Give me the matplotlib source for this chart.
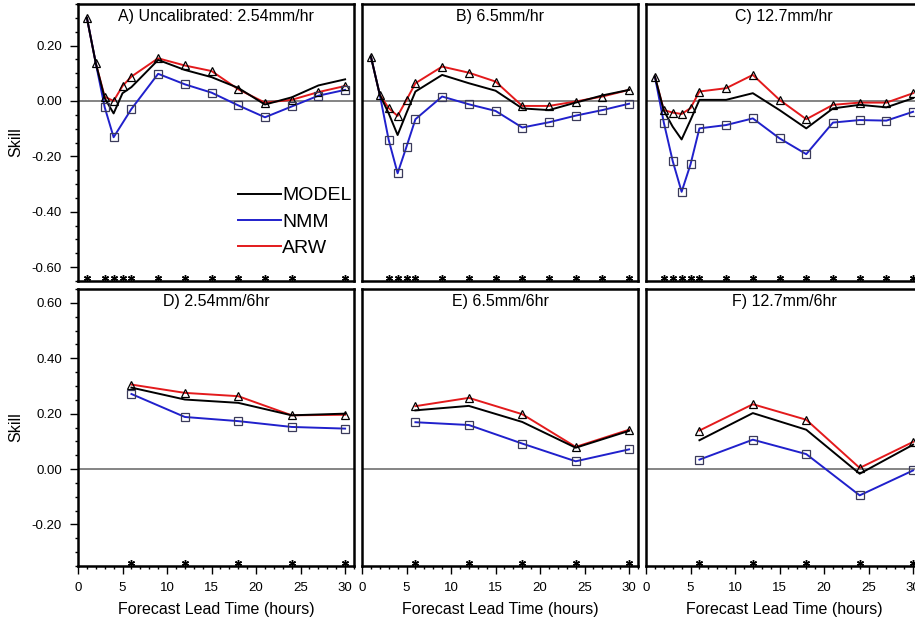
import numpy as np
import matplotlib
matplotlib.use("Agg")
import matplotlib.pyplot as plt
from matplotlib.ticker import MultipleLocator, FormatStrFormatter

plt.rcParams['font.family'] = ['Liberation Sans', 'DejaVu Sans']

# lead times (hours)
hours_hr = [1, 2, 3, 4, 5, 6, 9, 12, 15, 18, 21, 24, 27, 30]
hours_6hr = [6, 12, 18, 24, 30]

titles = ["A) Uncalibrated: 2.54mm/hr", "B) 6.5mm/hr", "C) 12.7mm/hr",
          "D) 2.54mm/6hr", "E) 6.5mm/6hr", "F) 12.7mm/6hr"]

# hourly accumulation skill
model_a = [0.300, 0.136, 0.010, -0.045, 0.028, 0.050, 0.148, 0.112, 0.086, 0.047, -0.013, 0.013, 0.056, 0.078]
nmm_a   = [0.300, 0.136, -0.023, -0.131, np.nan, -0.029, 0.098, 0.060, 0.030, -0.016, -0.059, -0.020, 0.019, 0.040]
arw_a   = [0.300, 0.136, 0.015, 0.000, 0.054, 0.088, 0.154, 0.128, 0.108, 0.042, -0.006, 0.004, 0.032, 0.054]

model_b = [0.160, 0.022, -0.045, -0.123, -0.043, 0.034, 0.094, 0.064, 0.037, -0.027, -0.033, -0.006, 0.020, 0.040]
nmm_b   = [0.160, 0.022, -0.141, -0.261, -0.165, -0.066, 0.016, -0.012, -0.036, -0.096, -0.077, -0.053, -0.033, -0.010]
arw_b   = [0.160, 0.022, -0.026, -0.054, 0.004, 0.064, 0.124, 0.102, 0.070, -0.018, -0.018, -0.002, 0.016, 0.040]

model_c = [0.088, -0.035, -0.093, -0.139, -0.069, 0.004, 0.004, 0.028, -0.033, -0.099, -0.027, -0.014, -0.023, 0.010]
nmm_c   = [0.088, -0.078, -0.217, -0.328, -0.229, -0.099, -0.087, -0.063, -0.135, -0.192, -0.078, -0.069, -0.071, -0.039]
arw_c   = [0.088, -0.033, -0.042, -0.047, -0.026, 0.034, 0.046, 0.094, 0.004, -0.066, -0.014, -0.006, -0.006, 0.028]

# 6-hourly accumulation skill
model_d = [0.294, 0.251, 0.239, 0.194, 0.200]
nmm_d   = [0.271, 0.188, 0.173, 0.152, 0.146]
arw_d   = [0.305, 0.275, 0.263, 0.194, 0.196]

model_e = [0.212, 0.228, 0.170, 0.077, 0.138]
nmm_e   = [0.169, 0.159, 0.092, 0.028, 0.071]
arw_e   = [0.227, 0.257, 0.198, 0.080, 0.142]

model_f = [0.104, 0.202, 0.142, -0.017, 0.088]
nmm_f   = [0.034, 0.106, 0.054, -0.095, -0.005]
arw_f   = [0.139, 0.234, 0.178, 0.004, 0.098]

# lead times flagged significant (asterisks)
sig_a = [1, 3, 4, 5, 6, 9, 12, 15, 18, 21, 24, 30]
sig_b = [3, 4, 5, 6, 9, 12, 15, 18, 21, 24, 27, 30]
sig_c = [2, 3, 4, 5, 6, 9, 12, 15, 18, 21, 24, 27, 30]
sig_6hr = [6, 12, 18, 24, 30]

panels = [
    (hours_hr, model_a, nmm_a, arw_a, sig_a),
    (hours_hr, model_b, nmm_b, arw_b, sig_b),
    (hours_hr, model_c, nmm_c, arw_c, sig_c),
    (hours_6hr, model_d, nmm_d, arw_d, sig_6hr),
    (hours_6hr, model_e, nmm_e, arw_e, sig_6hr),
    (hours_6hr, model_f, nmm_f, arw_f, sig_6hr),
]

W, H = 915, 621
fig = plt.figure(figsize=(W / 100, H / 100), dpi=100, facecolor="w")

lefts = [78, 362, 646]
tops = [4, 289]
pw, ph = 276, 277

red = "#e31a1c"
blue = "#2020cc"

for k, (x, mdl, nmm, arw, sig) in enumerate(panels):
    row, col = divmod(k, 3)
    ax = fig.add_axes([lefts[col] / W, (H - tops[row] - ph) / H, pw / W, ph / H])
    x = np.array(x)
    mdl, nmm, arw = np.array(mdl), np.array(nmm), np.array(arw)

    if row == 0:
        ax.set_ylim(-0.65, 0.35)
    else:
        ax.set_ylim(-0.35, 0.65)
    ax.set_xlim(0, 31)
    ymin = ax.get_ylim()[0]

    ax.axhline(0, color="#707070", lw=1.2, zorder=1)

    ok = ~np.isnan(nmm)
    mk = ok & (nmm != arw)   # no square where NMM sits on the ARW point
    l_arw, = ax.plot(x, arw, color=red, lw=1.4, zorder=2)
    l_nmm, = ax.plot(x[ok], nmm[ok], color=blue, lw=1.4, zorder=2)
    l_mdl, = ax.plot(x, mdl, color="black", lw=1.4, zorder=2.2)
    ax.plot(x, arw, ls="none", marker="^", ms=5.5, mfc="none", mec="black", mew=0.9, zorder=3)
    ax.plot(x[mk], nmm[mk], ls="none", marker="s",
            ms=5.5, mfc="none", mec="#3a3a5a", mew=0.9, zorder=3)

    ax.plot(sig, np.full(len(sig), ymin + 0.012), ls="none", marker=(6, 2, 0),
            ms=5, mew=1.0, color="black", zorder=3)

    ax.text(0.5, 0.956, titles[k], transform=ax.transAxes, ha="center", va="center", fontsize=11.5)

    for s in ax.spines.values():
        s.set_linewidth(1.8)

    ax.yaxis.set_major_locator(MultipleLocator(0.2))
    ax.yaxis.set_minor_locator(MultipleLocator(0.05))
    ax.yaxis.set_major_formatter(FormatStrFormatter("%.2f"))
    ax.xaxis.set_major_locator(MultipleLocator(5))
    ax.xaxis.set_minor_locator(MultipleLocator(1))
    ax.tick_params(which="major", direction="out", length=5.5, width=1.0, labelsize=9.5, pad=6)
    ax.tick_params(which="minor", direction="out", length=2.5, width=1.0)

    if col != 0:
        ax.tick_params(axis="y", which="both", left=False, labelleft=False)
    else:
        ax.set_ylabel("Skill", fontsize=11.5, labelpad=6)
    if row == 0:
        ax.tick_params(axis="x", which="both", bottom=False, labelbottom=False)
    else:
        ax.set_xlabel("Forecast Lead Time (hours)", fontsize=11.5, labelpad=6)

    if k == 0:
        ax.legend([l_mdl, l_nmm, l_arw], ["MODEL", "NMM", "ARW"], loc="upper left",
                  bbox_to_anchor=(0.545, 0.375), frameon=False, fontsize=14,
                  handlelength=2.2, handletextpad=0.05, labelspacing=0.45, borderpad=0)

fig.savefig("out.png", dpi=100, facecolor="w")
